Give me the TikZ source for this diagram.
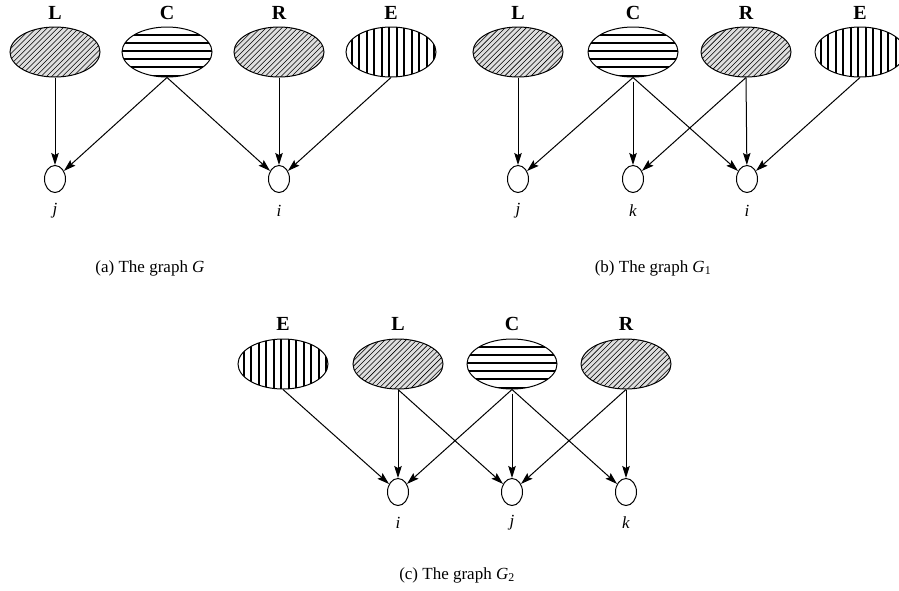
\documentclass[tikz,border=0pt]{standalone}
\usepackage{fontspec}
\setmainfont{Liberation Serif}
\usetikzlibrary{shapes.geometric,arrows.meta}
\begin{document}
\begin{tikzpicture}[x=1pt,y=-1pt,
  big/.style={ellipse,draw,line width=1pt,minimum width=90pt,minimum height=50pt,inner sep=0pt},
  diag/.style={big,fill=gray!25,path picture={
      \foreach \i in {-22,...,22}
        \draw[line width=0.55pt] ([shift={(\i*5.3-30,30)}]path picture bounding box.center) -- ++(60,-60);}},
  horiz/.style={big,fill=white,path picture={
      \foreach \i in {-3,...,3}
        \draw[line width=1.9pt] ([shift={(-50,\i*8.2-1)}]path picture bounding box.center) -- ++(100,0);}},
  vert/.style={big,fill=white,path picture={
      \foreach \i in {-6,...,6}
        \draw[line width=1.8pt] ([shift={(\i*7.5-1.7,-30)}]path picture bounding box.center) -- ++(0,60);}},
  small/.style={ellipse,draw,line width=1pt,minimum width=21pt,minimum height=27pt,inner sep=0pt,fill=white},
  lab/.style={font=\fontsize{20}{22}\selectfont\bfseries},
  var/.style={font=\fontsize{17}{20}\selectfont\itshape},
  capt/.style={font=\fontsize{17}{20}\selectfont},
  arr/.style={-{Stealth[length=12pt,width=7.5pt,inset=2pt]},line width=1pt}]
\useasboundingbox (0,0) rectangle (899,590);

% ---------- (a) ----------
\node[diag]  (aL) at (55,52)  {};
\node[horiz] (aC) at (167,52) {};
\node[diag]  (aR) at (279,52) {};
\node[vert]  (aE) at (391,52) {};
\node[lab] (aLl) at (55,13)  {L};
\node[lab] (aCl) at (167,13) {C};
\node[lab] (aRl) at (279,13) {R};
\node[lab] (aEl) at (391,13) {E};
\node[small] (aj) at (55,179)  {};
\node[small] (ai) at (279,179) {};
\node[var] (ajl) at (55,211)  {j};
\node[var] (ail) at (279,211) {i};
\draw[arr] (aL.south) -- (aj);
\draw[arr] (aC.south) -- (aj);
\draw[arr] (aC.south) -- (ai);
\draw[arr] (aR.south) -- (ai);
\draw[arr] (aE.south) -- (ai);
\node[capt] (acap) at (150,268) {(a) The graph \textit{G}};

% ---------- (b) ----------
\node[diag]  (bL) at (518,52) {};
\node[horiz] (bC) at (633,52) {};
\node[diag]  (bR) at (746,52) {};
\node[vert]  (bE) at (860,52) {};
\node[lab] (bLl) at (518,13) {L};
\node[lab] (bCl) at (633,13) {C};
\node[lab] (bRl) at (746,13) {R};
\node[lab] (bEl) at (860,13) {E};
\node[small] (bj) at (518,179) {};
\node[small] (bk) at (633,179) {};
\node[small] (bi) at (747,179) {};
\node[var] (bjl) at (518,211) {j};
\node[var] (bkl) at (633,211) {k};
\node[var] (bil) at (747,211) {i};
\draw[arr] (bL.south) -- (bj);
\draw[arr] (bC.south) -- (bj);
\draw[arr] ([yshift=-4pt]bC.south) -- (bk);
\draw[arr] (bC.south) -- (bi);
\draw[arr] (bR.south) -- (bk);
\draw[arr] (bR.south) -- (bi);
\draw[arr] (bE.south) -- (bi);
\node[capt] (bcap) at (653,268) {(b) The graph \textit{G}\textsubscript{1}};

% ---------- (c) ----------
\node[vert]  (cE) at (283,364) {};
\node[diag]  (cL) at (398,364) {};
\node[horiz] (cC) at (512,364) {};
\node[diag]  (cR) at (626,364) {};
\node[lab] (cEl) at (283,324) {E};
\node[lab] (cLl) at (398,324) {L};
\node[lab] (cCl) at (512,324) {C};
\node[lab] (cRl) at (626,324) {R};
\node[small] (ci) at (398,492) {};
\node[small] (cj) at (512,492) {};
\node[small] (ck) at (626,492) {};
\node[var] (cil) at (398,523) {i};
\node[var] (cjl) at (512,523) {j};
\node[var] (ckl) at (626,523) {k};
\draw[arr] (cE.south) -- (ci);
\draw[arr] (cL.south) -- (ci);
\draw[arr] (cL.south) -- (cj);
\draw[arr] (cC.south) -- (ci);
\draw[arr] ([yshift=-4pt]cC.south) -- (cj);
\draw[arr] (cC.south) -- (ck);
\draw[arr] (cR.south) -- (cj);
\draw[arr] (cR.south) -- (ck);
\node[capt] (ccap) at (457,575) {(c) The graph \textit{G}\textsubscript{2}};
\end{tikzpicture}
\end{document}
